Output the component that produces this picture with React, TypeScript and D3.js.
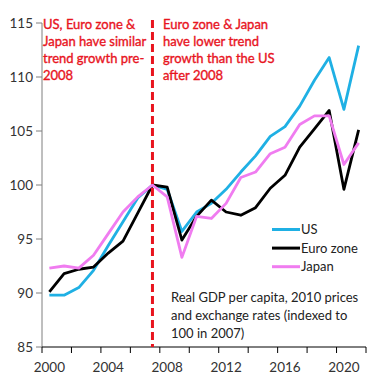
import React from "react";
import * as d3 from "d3";

const years = [2000,2001,2002,2003,2004,2005,2006,2007,2008,2009,2010,2011,2012,2013,2014,2015,2016,2017,2018,2019,2020,2021];
const usValues = [89.8,89.8,90.5,92.1,94.4,96.6,98.8,100,99.6,95.7,97.5,98.3,99.6,101.2,102.7,104.5,105.4,107.3,109.7,111.8,107.0,112.9];
const euroValues = [90.1,91.8,92.2,92.4,93.7,94.8,97.4,100,99.8,94.9,97.1,98.6,97.5,97.2,97.9,99.7,100.9,103.5,105.2,106.9,99.6,105.1];
const japanValues = [92.3,92.5,92.3,93.5,95.5,97.5,98.9,100,98.9,93.3,97.1,96.9,98.3,100.7,101.2,102.9,103.5,105.6,106.4,106.4,101.9,103.9];
const yTicks = [85,90,95,100,105,110,115];
const xLabelYears = [2000,2004,2008,2012,2016,2020];
const seriesNames = ["US","Euro zone","Japan"];
const seriesColors = ["#1fb0e4","#000000","#f07cf0"];
const leftNote = ["US, Euro zone &","Japan have similar","trend growth pre-","2008"];
const rightNote = ["Euro zone & Japan","have lower trend","growth than the US","after 2008"];
const sourceNote = ["Real GDP per capita, 2010  prices","and exchange rates (indexed to","100  in 2007)"];

export default function App() {
  const W = 392, H = 381;
  const left = 42, right = 366, top = 23, bottom = 347;
  const x = d3.scaleBand<number>().domain(years).range([left, right]);
  const cx = (yr: number) => (x(yr) as number) + x.bandwidth() / 2;
  const y = d3.scaleLinear().domain([85, 115]).range([bottom, top]);
  const line = d3.line<number>().x((_, i) => cx(years[i])).y(v => y(v));
  const all = [usValues, euroValues, japanValues];
  const font = "Lato, 'Open Sans', sans-serif";
  const tickPositions = d3.range(0, years.length + 1, 2).map(i => left + i * x.step());
  const red = "#e8141e";
  return (
    <svg width={W} height={H} style={{ position: "absolute", left: 0, top: 0, background: "#fff" }} fontFamily={font}>
      <rect width={W} height={H} fill="#fff" />
      <line x1={left} x2={left} y1={top} y2={bottom} stroke="#7f7f7f" strokeWidth={1} />
      {yTicks.map(t => (
        <g key={t}>
          <line x1={left - 6} x2={left} y1={y(t)} y2={y(t)} stroke="#7f7f7f" />
          <text x={left - 9} y={y(t)} dy="0.35em" textAnchor="end" fontSize={13.5} fill="#333">{t}</text>
        </g>
      ))}
      <line x1={left} x2={right} y1={bottom} y2={bottom} stroke="#000" strokeWidth={1} />
      {tickPositions.map((p, i) => (
        <line key={i} x1={p} x2={p} y1={bottom} y2={bottom + 6} stroke="#000" />
      ))}
      {xLabelYears.map(yr => (
        <text key={yr} x={cx(yr)} y={367} dy="0.35em" textAnchor="middle" fontSize={13.5} fill="#333">{yr}</text>
      ))}
      {all.map((vals, i) => (
        <path key={i} d={line(vals) as string} fill="none" stroke={seriesColors[i]} strokeWidth={2.8} strokeLinejoin="round" />
      ))}
      <line x1={cx(2007)} x2={cx(2007)} y1={20} y2={bottom} stroke={red} strokeWidth={3} strokeDasharray="8,4" />
      {leftNote.map((s, i) => (
        <text key={i} x={43} y={24 + i * 17.3} dy="0.35em" fontSize={13} fill={red} stroke={red} strokeWidth={0.35}>{s}</text>
      ))}
      {rightNote.map((s, i) => (
        <text key={i} x={163} y={24 + i * 17.3} dy="0.35em" fontSize={13} fill={red} stroke={red} strokeWidth={0.35}>{s}</text>
      ))}
      {seriesNames.map((n, i) => (
        <g key={n}>
          <line x1={272} x2={300} y1={229.5 + i * 18.6} y2={229.5 + i * 18.6} stroke={seriesColors[i]} strokeWidth={3} />
          <text x={301} y={229.5 + i * 18.6} dy="0.35em" fontSize={13} fill="#222">{n}</text>
        </g>
      ))}
      {sourceNote.map((s, i) => (
        <text key={i} x={171} y={297 + i * 18} dy="0.35em" fontSize={13} fill="#222">{s}</text>
      ))}
    </svg>
  );
}
